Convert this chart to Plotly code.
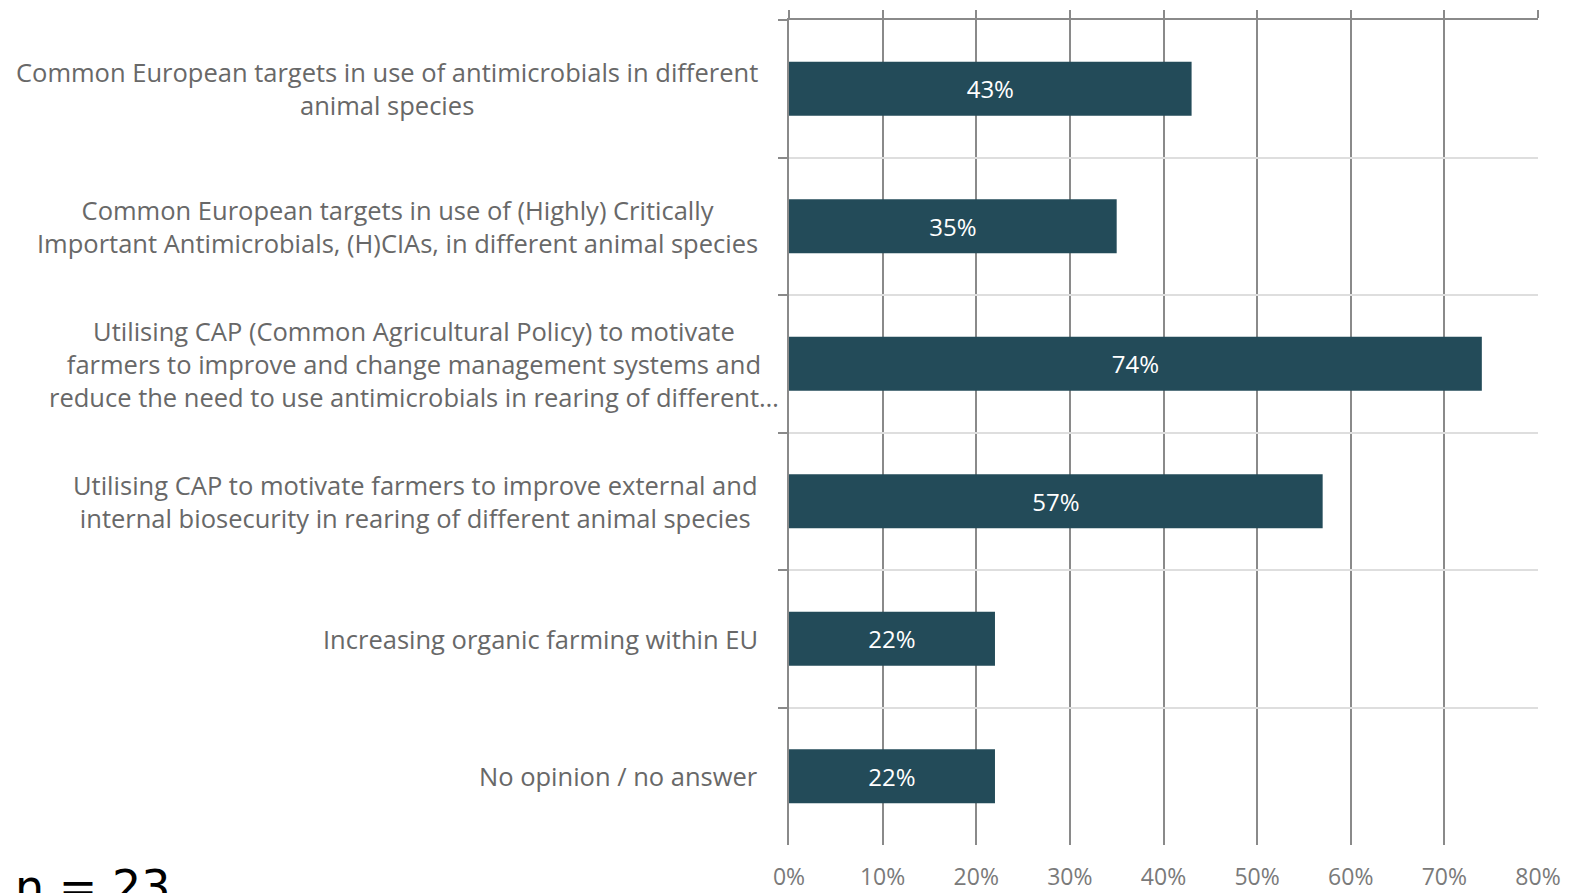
import plotly.graph_objects as go

# Survey answers (share of respondents, n = 23)
categories = [
    "Common European targets in use of antimicrobials in different<br>animal species",
    "Common European targets in use of (Highly) Critically<br>Important Antimicrobials, (H)CIAs, in different animal species",
    "Utilising CAP (Common Agricultural Policy) to motivate<br>farmers to improve and change management systems and<br>reduce the need to use antimicrobials in rearing of different…",
    "Utilising CAP to motivate farmers to improve external and<br>internal biosecurity in rearing of different animal species",
    "Increasing organic farming within EU",
    "No opinion / no answer",
]
shares = [0.43, 0.35, 0.74, 0.57, 0.22, 0.22]
sample_note = "n = 23"

BAR = "#234B59"
AXIS = "#8A8A8A"
GRID_H = "#DEDEDE"
LABEL = "#686868"
FONT = "Open Sans"

fig = go.Figure()
fig.add_trace(go.Bar(
    x=shares,
    y=categories,
    orientation="h",
    marker=dict(color=BAR, line=dict(width=0)),
    texttemplate="%{x:.0%}",
    textposition="inside",
    insidetextanchor="middle",
    textfont=dict(color="white", size=24, family=FONT),
    hoverinfo="skip",
))
# invisible helper so the top axis is drawn
fig.add_trace(go.Scatter(x=[None], y=[None], xaxis="x2", yaxis="y",
                         mode="markers", showlegend=False, hoverinfo="skip"))

# category labels, centred lines, right-aligned block
annotations = []
for i, cat in enumerate(categories):
    shift = -8 if cat.endswith("…") else -29
    annotations.append(dict(
        x=0, xref="paper", y=cat, yref="y",
        text=cat, showarrow=False,
        xanchor="right", yanchor="middle", align="center",
        xshift=shift,
        font=dict(family=FONT, size=25.5, color=LABEL),
    ))
annotations.append(dict(
    x=0, xref="paper", y=0, yref="paper",
    text=sample_note, showarrow=False,
    xanchor="left", yanchor="top", xshift=-776, yshift=-13,
    font=dict(family="DejaVu Sans", size=46, color="#000000"),
))

fig.update_layout(
    width=1570, height=893,
    margin=dict(l=789, r=32, t=20, b=48, autoexpand=False),
    paper_bgcolor="white", plot_bgcolor="white",
    showlegend=False,
    bargap=0.607,
    font=dict(family=FONT),
    xaxis=dict(
        range=[0, 0.8], tick0=0, dtick=0.1, tickformat=".0%",
        showgrid=True, gridcolor=AXIS, gridwidth=2,
        zeroline=False, showline=False, ticks="",
        ticklabelstandoff=16, automargin=False,
        tickfont=dict(family=FONT, size=23, color="#7A7A7A"),
        fixedrange=True,
    ),
    xaxis2=dict(
        overlaying="x", side="top", range=[0, 0.8], tick0=0, dtick=0.1,
        showgrid=False, zeroline=False, showticklabels=False,
        showline=True, linecolor=AXIS, linewidth=2, automargin=False,
        ticks="outside", ticklen=8, tickwidth=2, tickcolor=AXIS,
    ),
    yaxis=dict(
        type="category", categoryorder="array", categoryarray=categories,
        range=[5.5, -0.5], tickson="boundaries",
        ticks="outside", ticklen=9, tickwidth=2, tickcolor=AXIS,
        showgrid=True, gridcolor=GRID_H, gridwidth=2,
        showline=True, linecolor=AXIS, linewidth=2,
        showticklabels=False, zeroline=False, automargin=False,
    ),
    annotations=annotations,
)

fig.write_html("out.html")
